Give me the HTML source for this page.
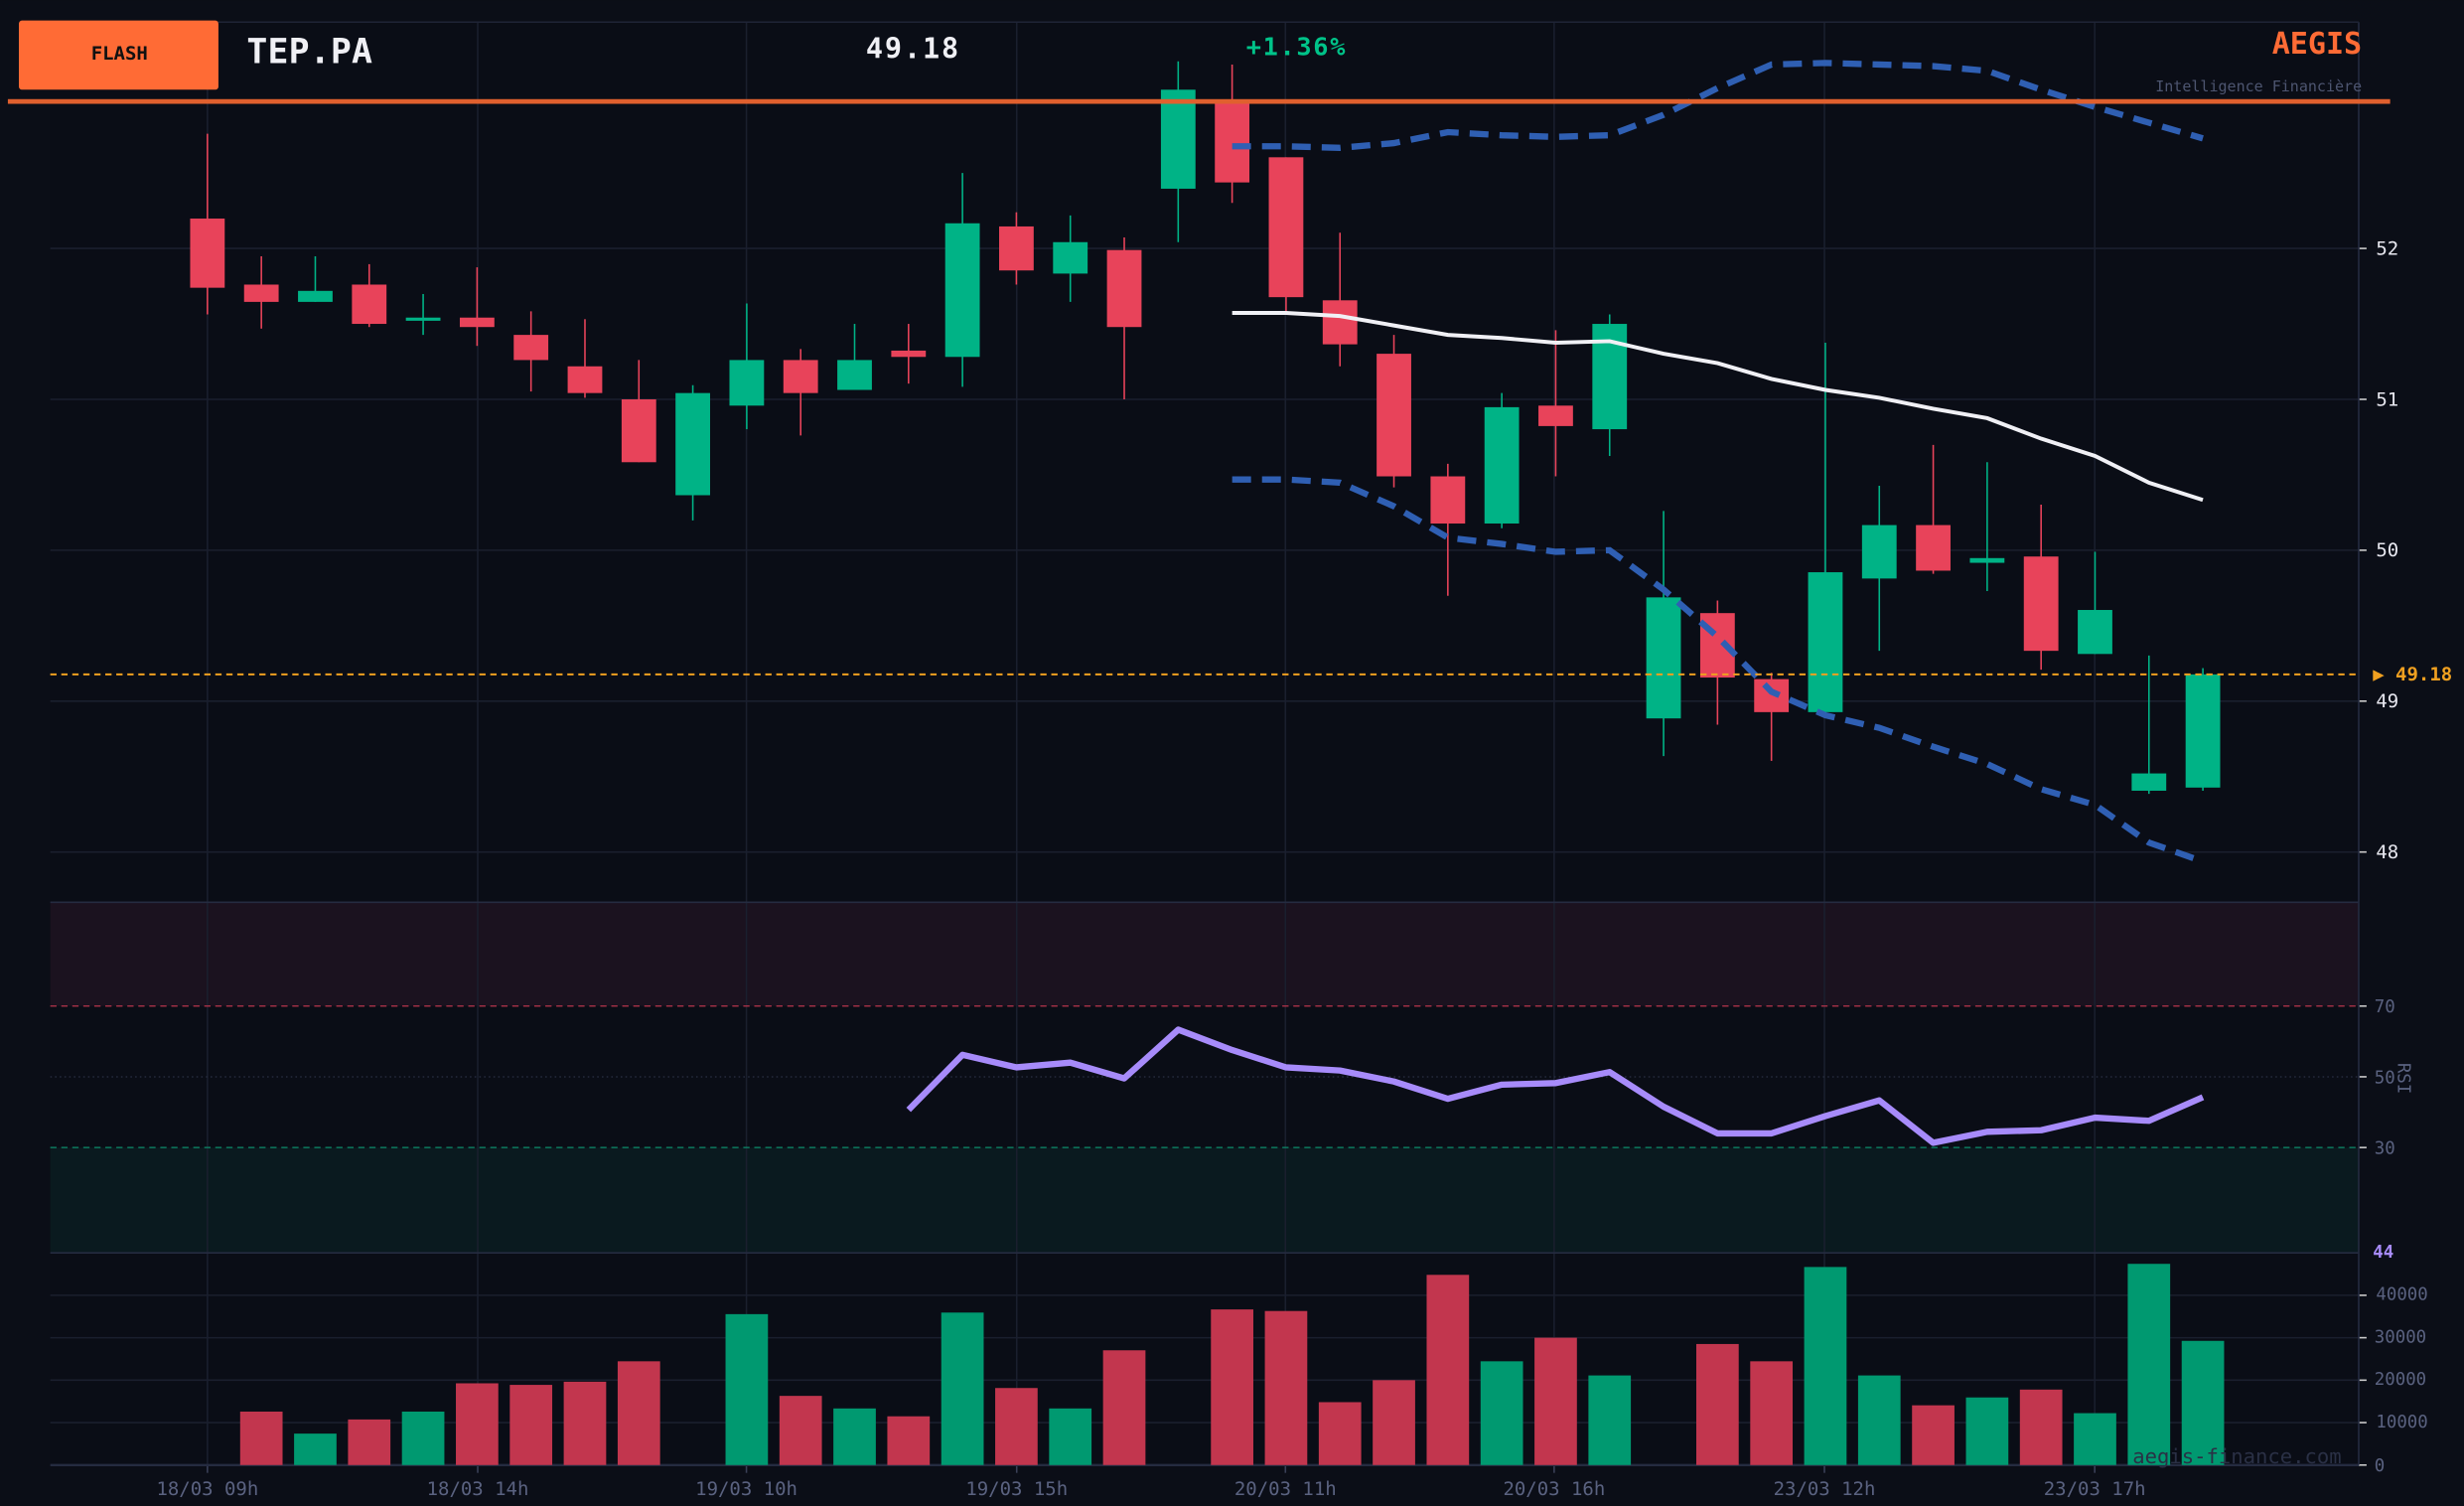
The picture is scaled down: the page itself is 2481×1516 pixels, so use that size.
<!DOCTYPE html>
<html><head><meta charset="utf-8"><style>
html,body{margin:0;padding:0;background:#0b0e17;}
svg{display:block}
text{font-family:"DejaVu Sans Mono","Liberation Mono",monospace}
</style></head><body>
<svg id="s" width="2481" height="1516" viewBox="0 0 1568 958" xmlns="http://www.w3.org/2000/svg">
<rect width="1568" height="958" fill="#0b0e17"/>
<rect x="32" y="14" width="1469" height="918" fill="#0a0d16"/>
<rect x="32" y="574" width="1469" height="66" fill="#1b121f"/>
<rect x="32" y="730" width="1469" height="67" fill="#0a1a1f"/>
<g id="grid" stroke="#1a1f2e" stroke-width="1"></g>
<line x1="32" y1="640" x2="1501" y2="640" stroke="#b8344c" stroke-width="0.8" stroke-dasharray="4,3"/>
<line x1="32" y1="730" x2="1501" y2="730" stroke="#0d8a6a" stroke-width="0.8" stroke-dasharray="4,3"/>
<line x1="32" y1="685" x2="1501" y2="685" stroke="#2a3044" stroke-width="0.8" stroke-dasharray="1,2"/>
<line x1="32" y1="797" x2="1501" y2="797" stroke="#252b40" stroke-width="1"/>
<line x1="32" y1="574" x2="1501" y2="574" stroke="#252b40" stroke-width="1"/>
<line x1="32" y1="932" x2="1501" y2="932" stroke="#252b40" stroke-width="1.5"/>
<line x1="1501" y1="14" x2="1501" y2="932" stroke="#252b40" stroke-width="1"/>
<line x1="32" y1="14" x2="1501" y2="14" stroke="#1f2436" stroke-width="1"/>
<g id="vol"></g>
<g id="cand"></g>
<g id="lines"></g>
<line x1="32" y1="429" x2="1501" y2="429" stroke="#f0a020" stroke-width="1.2" stroke-dasharray="4,3"/>
<rect x="5" y="63" width="1516" height="3" fill="#e0602e"/>
<rect x="12" y="13" width="127" height="44" rx="2" fill="#ff6b35"/>
<text x="76" y="38" font-size="12" font-weight="bold" fill="#111" text-anchor="middle">FLASH</text>
<text x="157" y="40" font-size="22" font-weight="bold" fill="#f0f0f5" textLength="80">TEP.PA</text>
<text x="551" y="37" font-size="18" font-weight="bold" fill="#f0f0f5" textLength="59">49.18</text>
<text x="793" y="35" font-size="16" font-weight="bold" fill="#00c389" textLength="63">+1.36%</text>
<text x="1503" y="34" font-size="19" font-weight="bold" fill="#ff6b35" text-anchor="end">AEGIS</text>
<text x="1503" y="58" font-size="9.5" fill="#4d5570" text-anchor="end">Intelligence Financière</text>
<g font-size="12" fill="#e8e8f0">
<text x="1512" y="162">52</text><text x="1512" y="258">51</text><text x="1512" y="354">50</text><text x="1512" y="450">49</text><text x="1512" y="546">48</text>
</g>
<text x="1510" y="433" font-size="12" font-weight="bold" fill="#f0a020">▶ 49.18</text>
<g font-size="11" fill="#5a6280">
<text x="1511" y="644">70</text><text x="1511" y="689">50</text><text x="1511" y="734">30</text>
<text x="1512" y="827">40000</text><text x="1511" y="854">30000</text><text x="1511" y="881">20000</text><text x="1512" y="908">10000</text><text x="1511" y="936">0</text>
</g>
<text x="1526" y="686" font-size="11" fill="#5a6280" transform="rotate(90 1526 686)" text-anchor="middle">RSI</text>
<text x="1510" y="800" font-size="11" font-weight="bold" fill="#a78bfa">44</text>
<text x="1490" y="931" font-size="13" fill="#2a3045" text-anchor="end">aegis-finance.com</text>
<g font-size="12" fill="#5a6280" text-anchor="middle">
<text x="132" y="951">18/03 09h</text><text x="304" y="951">18/03 14h</text><text x="475" y="951">19/03 10h</text><text x="647" y="951">19/03 15h</text><text x="818" y="951">20/03 11h</text><text x="989" y="951">20/03 16h</text><text x="1161" y="951">23/03 12h</text><text x="1333" y="951">23/03 17h</text>
</g>
</svg>
<script>
var NS="http://www.w3.org/2000/svg";
function el(p,t,a){var e=document.createElementNS(NS,t);for(var k in a)e.setAttribute(k,a[k]);document.getElementById(p).appendChild(e);return e;}
[158,254,350,446,542,824,851,878,905].forEach(function(y){el("grid","line",{x1:32,y1:y,x2:1501,y2:y});});
[132,304,475,647,818,989,1161,1333].forEach(function(x){el("grid","line",{x1:x,y1:14,x2:x,y2:932});el("grid","line",{x1:x,y1:932,x2:x,y2:937,stroke:"#3a4058"});});
[158,254,350,446,542].forEach(function(y){el("grid","line",{x1:1501,y1:y,x2:1506,y2:y,stroke:"#ccc"});});
[640,685,730,824,851,878,905,932].forEach(function(y){el("grid","line",{x1:1501,y1:y,x2:1506,y2:y,stroke:"#ccc"});});
var C=[["r",139,183,85,200],["r",181,192,163,209],["g",185,192,163,192],["r",181,206,168,208],["g",202,204,187,213],["r",202,208,170,220],["r",213,229,198,249],["r",233,250,203,253],["r",254,294,229,294],["g",250,315,245,331],["g",229,258,193,273],["r",229,250,222,277],["g",229,248,206,248],["r",223,227,206,244],["g",142,227,110,246],["r",144,172,135,181],["g",154,174,137,192],["r",159,208,151,254],["g",57,120,39,154],["r",65,116,41,129],["r",100,189,100,198],["r",191,219,148,233],["r",225,303,213,310],["r",303,333,295,379],["g",259,333,250,336],["r",258,271,210,303],["g",206,273,200,290],["g",380,457,325,481],["r",390,431,382,461],["r",432,453,428,484],["g",364,453,218,453],["g",334,368,309,414],["r",334,363,283,365],["g",355,358,294,376],["r",354,414,321,426],["g",388,416,351,416],["g",492,503,417,505],["g",429,501,425,503]];
function X(i){return 132+34.32*i;}
C.forEach(function(c,i){var col=c[0]=="g"?"#00b386":"#e8435a";var x=X(i);
el("cand","line",{x1:x,y1:c[3],x2:x,y2:c[4],stroke:col,"stroke-width":1});
el("cand","rect",{x:x-11,y:c[1],width:22,height:Math.max(2,c[2]-c[1]),fill:col});});
var V=[null,898,912,903,898,880,881,879,866,null,836,888,896,901,835,883,896,859,null,833,834,892,878,811,866,851,875,null,855,866,806,875,894,889,884,899,804,853];
V.forEach(function(v,i){if(v==null)return;var col=C[i][0]=="g"?"#009970":"#c2364e";el("vol","rect",{x:X(i)-13.5,y:v,width:27,height:932-v,fill:col});});
function pl(start,ys,a){var p=ys.map(function(y,k){return X(start+k).toFixed(1)+","+y;}).join(" ");a.points=p;a.fill="none";el("lines","polyline",a);}
pl(19,[93,93,94,91,84,86,87,86,73,56,41,40,41,42,45,57,68,78,88],{stroke:"#2f5fb3","stroke-width":4,"stroke-dasharray":"12,7"});
pl(19,[305,305,307,322,342,346,351,350,375,405,440,455,463,475,486,502,512,536,548],{stroke:"#2f5fb3","stroke-width":4,"stroke-dasharray":"12,7"});
pl(19,[199,199,201,207,213,215,218,217,225,231,241,248,253,260,266,279,290,307,318],{stroke:"#f0f0f5","stroke-width":2.5});
pl(13,[706,671,679,676,686,655,668,679,681,688,699,690,689,682,704,721,721,710,700,727,720,719,711,713,698],{stroke:"#a78bfa","stroke-width":4,"stroke-linejoin":"round"});
</script>
</body></html>
